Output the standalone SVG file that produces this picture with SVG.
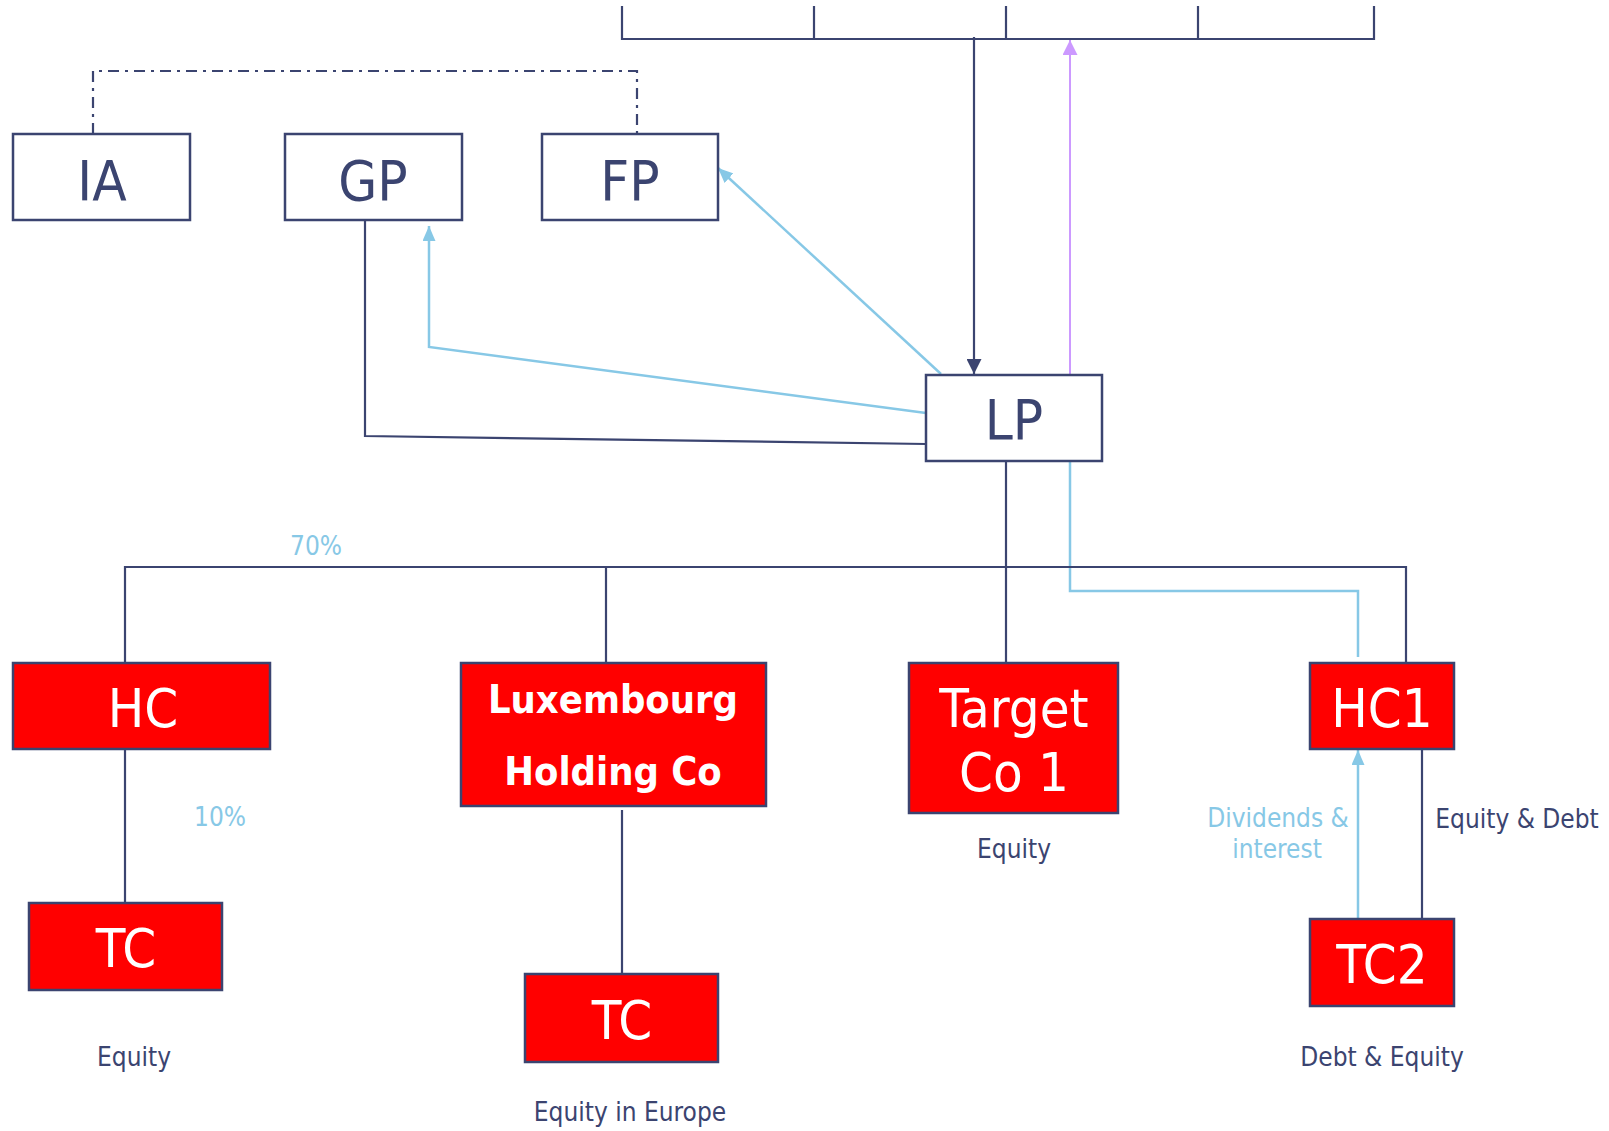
<svg xmlns="http://www.w3.org/2000/svg" width="1609" height="1131" viewBox="0 0 1609 1131">
<style>
.box{fill:#fff;stroke:#3b4470;stroke-width:2.5}
.red{fill:#ff0000;stroke:#3b4470;stroke-width:2.5}
.t{font-family:"DejaVu Sans Condensed","DejaVu Sans",sans-serif;text-anchor:middle}
.bt{fill:#3b4470;font-size:56px}
.wt{fill:#fff;font-size:54px}
.lux{fill:#fff;font-size:39.5px;font-weight:bold}
.lbl{fill:#3b4470;font-size:26px}
.lbb{fill:#87c8e6;font-size:26px}
.dk{fill:none;stroke:#3b4470;stroke-width:2.2}
.lb{fill:none;stroke:#87c8e6;stroke-width:2.5}
.pu{fill:none;stroke:#cc99ff;stroke-width:2}
</style>
<defs>
<marker id="aDk" viewBox="0 0 15 15" refX="15" refY="7.5" markerWidth="15" markerHeight="15" markerUnits="userSpaceOnUse" orient="auto"><path d="M0,0 L15,7.5 L0,15 z" fill="#3b4470"/></marker>
<marker id="aLb" viewBox="0 0 15 13" refX="15" refY="6.5" markerWidth="15" markerHeight="13" markerUnits="userSpaceOnUse" orient="auto"><path d="M0,0 L15,6.5 L0,13 z" fill="#87c8e6"/></marker>
<marker id="aPu" viewBox="0 0 15 15" refX="15" refY="7.5" markerWidth="15" markerHeight="15" markerUnits="userSpaceOnUse" orient="auto"><path d="M0,0 L15,7.5 L0,15 z" fill="#cc99ff"/></marker>
</defs>
<g id="connectors">
<path class="dk" d="M622,6 V39 H1374 V6 M814,6 V39 M1006,6 V39 M1198,6 V39"/>
<path class="dk" d="M974,37 V374" marker-end="url(#aDk)"/>
<path class="pu" d="M1070,374 V40" marker-end="url(#aPu)"/>
<path class="dk" d="M93,134 V71 H637 V134" stroke-dasharray="11,6,3,6"/>
<path class="dk" d="M365,220 V436 L926,444"/>
<path class="lb" d="M926,413 L429,347 V226" marker-end="url(#aLb)"/>
<path class="lb" d="M941,374 L718,168" marker-end="url(#aLb)"/>
<path class="lb" d="M1070,454 V591 H1358 V657"/>
<path class="dk" d="M1006,461 V663"/>
<path class="dk" d="M125,663 V567 H1406 V663 M606,567 V663"/>
<path class="dk" d="M125,749 V903"/>
<path class="dk" d="M622,810 V974"/>
<path class="dk" d="M1422,750 V919"/>
<path class="lb" d="M1358,919 V750" marker-end="url(#aLb)"/>
</g>
<g id="IA"><rect class="box" x="13" y="134" width="177" height="86"/><text class="t bt" x="102" y="200">IA</text></g>
<g id="GP"><rect class="box" x="285" y="134" width="177" height="86"/><text class="t bt" x="373" y="200">GP</text></g>
<g id="FP"><rect class="box" x="542" y="134" width="176" height="86"/><text class="t bt" x="630" y="200">FP</text></g>
<g id="LP"><rect class="box" x="926" y="375" width="176" height="86"/><text class="t bt" x="1014" y="439">LP</text></g>
<g id="HC"><rect class="red" x="13" y="663" width="257" height="86"/><text class="t wt" x="143" y="727">HC</text></g>
<g id="Lux"><rect class="red" x="461" y="663" width="305" height="143"/><text class="t lux" x="613" y="713">Luxembourg</text><text class="t lux" x="613" y="785">Holding Co</text></g>
<g id="Target"><rect class="red" x="909" y="663" width="209" height="150"/><text class="t wt" x="1014" y="727">Target</text><text class="t wt" x="1014" y="791">Co 1</text></g>
<g id="HC1"><rect class="red" x="1310" y="663" width="144" height="86"/><text class="t wt" x="1382" y="727">HC1</text></g>
<g id="TC2"><rect class="red" x="1310" y="919" width="144" height="87"/><text class="t wt" x="1382" y="983">TC2</text></g>
<g id="TC1"><rect class="red" x="29" y="903" width="193" height="87"/><text class="t wt" x="126" y="967">TC</text></g>
<g id="TC3"><rect class="red" x="525" y="974" width="193" height="88"/><text class="t wt" x="622" y="1039">TC</text></g>
<g id="labels">
<text class="t lbb" x="316" y="555">70%</text>
<text class="t lbb" x="220" y="826">10%</text>
<text class="t lbl" x="134" y="1066">Equity</text>
<text class="t lbl" x="630" y="1121">Equity in Europe</text>
<text class="t lbl" x="1014" y="858">Equity</text>
<text class="t lbb" x="1278" y="827">Dividends &amp;</text>
<text class="t lbb" x="1277" y="858">interest</text>
<text class="t lbl" x="1517" y="828">Equity &amp; Debt</text>
<text class="t lbl" x="1382" y="1066">Debt &amp; Equity</text>
</g>
</svg>
